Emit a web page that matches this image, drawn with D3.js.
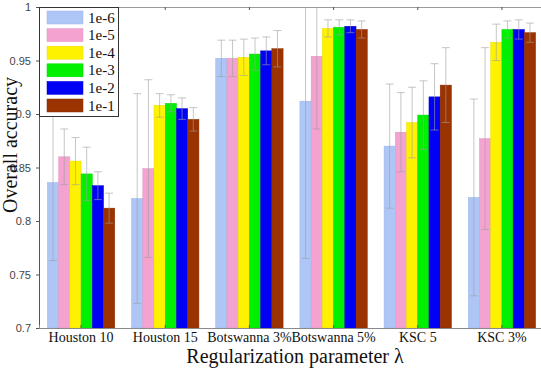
<!DOCTYPE html>
<html>
<head>
<meta charset="utf-8">
<script src="https://cdn.jsdelivr.net/npm/d3@7"></script>
<style>
  body { margin: 0; background: #fff; overflow: hidden; }
  svg { display: block; }
  .serif { font-family: "Liberation Serif", "Times New Roman", "DejaVu Serif", serif; }
  .sans { font-family: "Liberation Sans", Arial, sans-serif; }
</style>
</head>
<body>
<div id="chart"></div>
<script>
// categories and legend entries
const categories = ['Houston 10', 'Houston 15', 'Botswanna 3%', 'Botswanna 5%', 'KSC 5', 'KSC 3%'];
const lambdas = ['1e-6', '1e-5', '1e-4', '1e-3', '1e-2', '1e-1'];

// mean overall accuracy, one array per lambda (order = categories)
const acc_1e6 = [0.836, 0.821, 0.952, 0.912, 0.870, 0.822];
const acc_1e5 = [0.860, 0.849, 0.952, 0.954, 0.883, 0.877];
const acc_1e4 = [0.856, 0.908, 0.953, 0.980, 0.892, 0.967];
const acc_1e3 = [0.844, 0.910, 0.956, 0.981, 0.899, 0.979];
const acc_1e2 = [0.833, 0.905, 0.959, 0.982, 0.916, 0.979];
const acc_1e1 = [0.812, 0.895, 0.961, 0.979, 0.927, 0.976];

// std deviation (error bar half-length)
const std_1e6 = [0.073, 0.098, 0.017, 0.147, 0.058, 0.092];
const std_1e5 = [0.026, 0.083, 0.017, 0.068, 0.037, 0.085];
const std_1e4 = [0.022, 0.011, 0.017, 0.008, 0.033, 0.017];
const std_1e3 = [0.025, 0.008, 0.015, 0.007, 0.032, 0.008];
const std_1e2 = [0.013, 0.010, 0.013, 0.006, 0.031, 0.009];
const std_1e1 = [0.014, 0.011, 0.017, 0.008, 0.035, 0.009];

const yTicks = [0.7, 0.75, 0.8, 0.85, 0.9, 0.95, 1];
const yTickLabels = ['0.7', '0.75', '0.8', '0.85', '0.9', '0.95', '1'];

const colors = ['#aec6f6', '#f4a2d0', '#fff200', '#00f000', '#0000f5', '#9a3300'];
const edges = ['#9ab4ea', '#e396c2', '#e8dc00', '#00dc00', '#0000d8', '#862c00'];

const means = [acc_1e6, acc_1e5, acc_1e4, acc_1e3, acc_1e2, acc_1e1];
const stds = [std_1e6, std_1e5, std_1e4, std_1e3, std_1e2, std_1e1];

const W = 541, H = 370;
const margin = { left: 39, right: 544, top: 7, bottom: 328 };

const svg = d3.select('#chart').append('svg')
  .attr('width', W)
  .attr('height', H);

const x = d3.scaleBand()
  .domain(categories)
  .range([margin.left, margin.right])
  .paddingInner(0.2)
  .paddingOuter(0.1);

const xInner = d3.scaleBand()
  .domain(lambdas)
  .range([0, x.bandwidth()])
  .padding(0);

const y = d3.scaleLinear()
  .domain([0.7, 1])
  .range([margin.bottom, margin.top]);

svg.append('clipPath').attr('id', 'plot')
  .append('rect')
  .attr('x', margin.left).attr('y', margin.top)
  .attr('width', margin.right - margin.left).attr('height', margin.bottom - margin.top);

// flatten into rows
const rows = [];
lambdas.forEach((l, li) => {
  categories.forEach((c, ci) => {
    rows.push({ cat: c, lam: l, li: li, v: means[li][ci], e: stds[li][ci] });
  });
});

/* bars */
const plot = svg.append('g').attr('clip-path', 'url(#plot)');
plot.selectAll('rect.bar')
  .data(rows)
  .enter()
  .append('rect')
  .attr('class', 'bar')
  .attr('x', d => x(d.cat) + xInner(d.lam))
  .attr('y', d => y(d.v))
  .attr('width', xInner.bandwidth())
  .attr('height', d => y(0.7) - y(d.v))
  .style('fill', d => colors[d.li])
  .style('stroke', d => edges[d.li])
  .style('stroke-width', 0.5);

/* error bars */
const capW = 4;
const eb = plot.selectAll('g.err')
  .data(rows)
  .enter()
  .append('g')
  .attr('class', 'err')
  .style('stroke', '#a0a0a0')
  .style('stroke-opacity', 0.75)
  .style('stroke-width', 0.8);

const cx = d => x(d.cat) + xInner(d.lam) + xInner.bandwidth() / 2;
eb.append('line')
  .attr('x1', cx).attr('x2', cx)
  .attr('y1', d => y(d.v - d.e))
  .attr('y2', d => y(d.v + d.e));
eb.append('line')
  .attr('x1', d => cx(d) - capW).attr('x2', d => cx(d) + capW)
  .attr('y1', d => y(d.v + d.e)).attr('y2', d => y(d.v + d.e));
eb.append('line')
  .attr('x1', d => cx(d) - capW).attr('x2', d => cx(d) + capW)
  .attr('y1', d => y(d.v - d.e)).attr('y2', d => y(d.v - d.e));

/* frame */
svg.append('line')
  .attr('x1', margin.left).attr('x2', margin.right)
  .attr('y1', margin.top + 0.5).attr('y2', margin.top + 0.5)
  .style('stroke', '#9a9a9a');

// small ticks on the top border
svg.selectAll('line.topTick')
  .data(categories)
  .enter()
  .append('line')
  .attr('class', 'topTick')
  .attr('x1', d => x(d) + x.bandwidth() / 2)
  .attr('x2', d => x(d) + x.bandwidth() / 2)
  .attr('y1', margin.top).attr('y2', margin.top + 3)
  .style('stroke', '#555');

/* axes */
const yAxis = d3.axisLeft(y)
  .tickValues(yTicks)
  .tickFormat((d, i) => yTickLabels[i])
  .tickSize(3)
  .tickPadding(5);

const gy = svg.append('g')
  .attr('transform', `translate(${margin.left}, 0)`)
  .call(yAxis);
gy.attr('font-family', null);
gy.select('.domain').style('stroke', '#555');
gy.selectAll('.tick line').style('stroke', '#555');
gy.selectAll('.tick text')
  .attr('class', 'sans')
  .style('font-size', '11px')
  .style('fill', '#444');

const xAxis = d3.axisBottom(x)
  .tickSize(-3)
  .tickPadding(4);

const gx = svg.append('g')
  .attr('transform', `translate(0, ${margin.bottom})`)
  .call(xAxis);
gx.attr('font-family', null);
gx.select('.domain').style('stroke', '#8a8a8a');
gx.selectAll('.tick line').style('stroke', '#555');
gx.selectAll('.tick text')
  .attr('class', 'serif')
  .style('font-size', '14px')
  .style('fill', '#111');

/* axis titles */
svg.append('text')
  .attr('class', 'serif')
  .attr('x', 295)
  .attr('y', 363)
  .attr('text-anchor', 'middle')
  .style('font-size', '20px')
  .style('fill', '#111')
  .text('Regularization parameter λ');

svg.append('text')
  .attr('class', 'serif')
  .attr('transform', 'translate(17, 145) rotate(-90)')
  .attr('text-anchor', 'middle')
  .style('font-size', '20px')
  .style('fill', '#111')
  .text('Overall accuracy');

/* legend */
const legend = svg.append('g');
legend.append('rect')
  .attr('x', margin.left + 0.5).attr('y', margin.top + 0.5)
  .attr('width', 79).attr('height', 109)
  .style('fill', '#fff')
  .style('stroke', '#333')
  .style('stroke-width', 1);

const item = legend.selectAll('g.item')
  .data(lambdas)
  .enter()
  .append('g')
  .attr('class', 'item')
  .attr('transform', (d, i) => `translate(0, ${17.5 + i * 17.6})`);

item.append('rect')
  .attr('x', 47).attr('y', -6.5)
  .attr('width', 36).attr('height', 13)
  .style('fill', (d, i) => colors[i])
  .style('stroke', (d, i) => edges[i])
  .style('stroke-width', 0.5);

item.append('text')
  .attr('class', 'serif')
  .attr('x', 88).attr('y', 5)
  .style('font-size', '15px')
  .style('fill', '#111')
  .text(d => d);
</script>
</body>
</html>
